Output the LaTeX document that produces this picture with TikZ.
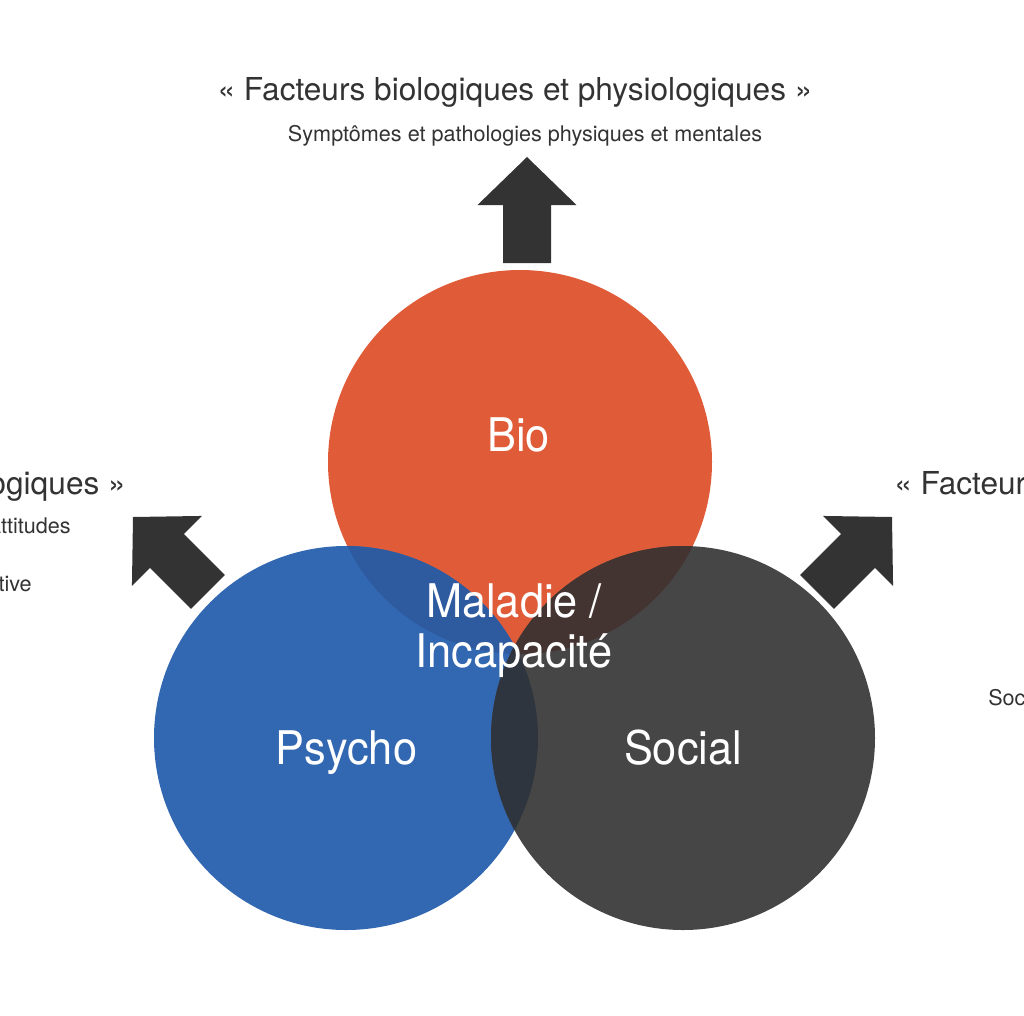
\documentclass[tikz,border=0pt]{standalone}
\usepackage{fontspec}
\setmainfont{TeX Gyre Heros}
\begin{document}
\begin{tikzpicture}[x=0.75pt,y=-0.75pt]
\definecolor{biocol}{HTML}{E05B37}
\definecolor{psycol}{HTML}{3267B1}
\definecolor{soccol}{HTML}{464646}
\definecolor{bpcol}{HTML}{2E5A9F}
\definecolor{bscol}{HTML}{433431}
\definecolor{pscol}{HTML}{2F353F}
\definecolor{allcol}{HTML}{2E3038}
\definecolor{inkcol}{HTML}{333333}
\tikzset{
  heading/.style={inner sep=0pt, anchor=base, text=inkcol, font=\fontsize{23.7pt}{28pt}\selectfont},
  subline/.style={inner sep=0pt, anchor=base, text=inkcol, font=\fontsize{16.2pt}{19pt}\selectfont},
  circlabel/.style={inner sep=0pt, anchor=base, text=white, font=\fontsize{32.5pt}{38pt}\selectfont},
  pics/bigarrow/.style={code={
    \fill[inkcol] (0,0) -- (49.5,48) -- (24,48) -- (24,106) -- (-24,106)
      -- (-24,48) -- (-49.5,48) -- cycle;}}
}
\newcommand{\tallword}[1]{\scalebox{1}[1.07]{#1}}
\useasboundingbox (0,0) rectangle (1024,1015);

% the three circles
\coordinate (B) at (520,462);
\coordinate (P) at (346,738);
\coordinate (S) at (683,738);
\fill[biocol] (B) circle[radius=144pt];
\fill[psycol] (P) circle[radius=144pt];
\fill[soccol] (S) circle[radius=144pt];
% overlaps
\begin{scope}
  \clip (B) circle[radius=144pt];
  \fill[bpcol] (P) circle[radius=144pt];
  \fill[bscol] (S) circle[radius=144pt];
\end{scope}
\begin{scope}
  \clip (P) circle[radius=144pt];
  \fill[pscol] (S) circle[radius=144pt];
  \clip (S) circle[radius=144pt];
  \fill[allcol] (B) circle[radius=144pt];
\end{scope}

% arrows
\pic at (527,157) {bigarrow};
\pic[rotate=45] at (133,517) {bigarrow};
\pic[rotate=-45] at (892,517) {bigarrow};

% circle labels
\node[circlabel] (bio) at (518.5,451) {\tallword{Bio}};
\node[circlabel] (psycho) at (346.5,764) {\tallword{Psycho}};
\node[circlabel] (social) at (683,764) {\tallword{Social}};
\node[circlabel] (ill1) at (514,617) {\tallword{Maladie /}};
\node[circlabel] (ill2) at (514,667) {\tallword{Incapacité}};

% headings
\node[heading] (bioT) at (515,100) {« Facteurs biologiques et physiologiques »};
\node[subline] (bioS) at (525,141) {Symptômes et pathologies physiques et mentales};
\node[heading, anchor=base east] (psyT) at (126,494) {« Facteurs psychologiques »};
\node[subline, anchor=base east] (psyS1) at (71,533) {attitudes};
\node[subline, anchor=base east] (psyS2) at (32,591) {cognitive};
\node[heading, anchor=base west] (socT) at (894,494) {« Facteurs sociaux »};
\node[subline, anchor=base west] (socS) at (988,705) {Société};
\end{tikzpicture}
\end{document}
